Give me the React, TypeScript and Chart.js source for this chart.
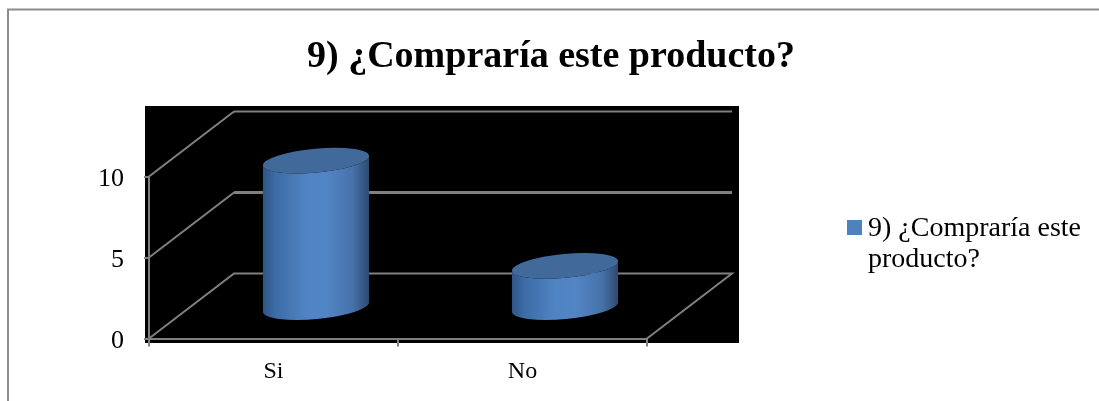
import React, { useEffect, useRef } from "react";
import { Chart, registerables } from "chart.js";

Chart.register(...registerables);

const categories = ["Si", "No"];
const seriesName = "9) ¿Compraría este producto?";
const legendLines = ["9) ¿Compraría este", "producto?"];
const seriesValues = [9.1, 2.6];
const yTicks = [0, 5, 10];

const SERIF = '"Liberation Serif", serif';
const GRAY = "#808080";
const BLUE = "#4f81bd";
const DEPTH_X = 85;
const DEPTH_Y = 65;

const scene = {
  id: "scene",
  afterLayout(chart: any) {
    // the title is centred on the whole frame, not on the plot
    chart.titleBlock.left = 2;
    chart.titleBlock.right = 1100;
  },
  beforeDraw(chart: any) {
    const { ctx, chartArea: a, scales } = chart;
    ctx.save();
    // frame: left and top edges only
    ctx.strokeStyle = "#8c8c8c";
    ctx.lineWidth = 2;
    ctx.beginPath();
    ctx.moveTo(8, 401);
    ctx.lineTo(8, 9.5);
    ctx.lineTo(1099, 9.5);
    ctx.stroke();
    // black plot backdrop
    ctx.fillStyle = "#000";
    ctx.fillRect(a.left - 4, a.top - 70.5, a.right - a.left + 94 + 2, a.bottom - a.top + 75);
    // walls and floor
    ctx.strokeStyle = GRAY;
    yTicks.forEach((t) => {
      const y = scales.y.getPixelForValue(t);
      ctx.lineWidth = 2;
      ctx.beginPath();
      ctx.moveTo(a.left, y);
      ctx.lineTo(a.left + DEPTH_X, y - DEPTH_Y);
      if (t === 0) {
        ctx.lineTo(a.right + DEPTH_X, y - DEPTH_Y);
        ctx.lineTo(a.right, y);
      }
      ctx.stroke();
      if (t !== 0) {
        ctx.lineWidth = t === 5 ? 3 : 2;
        ctx.beginPath();
        ctx.moveTo(a.left + DEPTH_X, y - DEPTH_Y);
        ctx.lineTo(a.right + DEPTH_X, y - DEPTH_Y);
        ctx.stroke();
      }
    });
    ctx.restore();
  },
  afterDatasetsDraw(chart: any) {
    const { ctx } = chart;
    const rot = -0.093;
    chart.getDatasetMeta(0).data.forEach((bar: any) => {
      const half = bar.width / 2;
      const cx = bar.x + DEPTH_X / 2;
      const baseY = bar.base - DEPTH_Y / 2 + 2;
      const topY = bar.y - DEPTH_Y / 2 + 2;
      const a = half / Math.cos(rot);
      const b = 12;
      const dy = half * Math.tan(rot);
      const grad = ctx.createLinearGradient(cx - half, 0, cx + half, 0);
      grad.addColorStop(0, "#2f5587");
      grad.addColorStop(0.12, "#3d6ca6");
      grad.addColorStop(0.4, "#5083c2");
      grad.addColorStop(0.6, "#5285c5");
      grad.addColorStop(0.85, "#4672a9");
      grad.addColorStop(1, "#2d4a70");
      ctx.save();
      ctx.fillStyle = grad;
      ctx.beginPath();
      ctx.moveTo(cx - half, topY - dy);
      ctx.lineTo(cx - half, baseY - dy);
      ctx.ellipse(cx, baseY, a, b, rot, Math.PI, 0, true);
      ctx.lineTo(cx + half, topY + dy);
      ctx.ellipse(cx, topY, a, b, rot, 0, Math.PI, false);
      ctx.closePath();
      ctx.fill();
      ctx.fillStyle = "#41699a";
      ctx.beginPath();
      ctx.ellipse(cx, topY, a, b, rot, 0, Math.PI * 2);
      ctx.fill();
      ctx.restore();
    });
  },
  afterDraw(chart: any) {
    const { ctx } = chart;
    ctx.save();
    ctx.fillStyle = BLUE;
    ctx.fillRect(847, 220, 15, 15);
    ctx.fillStyle = "#000";
    ctx.font = `28px ${SERIF}`;
    ctx.textBaseline = "alphabetic";
    legendLines.forEach((l, i) => ctx.fillText(l, 868, 236 + i * 31));
    ctx.restore();
  },
};

export default function App() {
  const ref = useRef<HTMLCanvasElement>(null);
  useEffect(() => {
    const chart = new Chart(ref.current!, {
      type: "bar",
      data: {
        labels: categories,
        datasets: [
          {
            label: seriesName,
            data: seriesValues,
            backgroundColor: "transparent",
            barPercentage: 0.426,
            categoryPercentage: 1,
          },
        ],
      },
      plugins: [scene],
      options: {
        responsive: false,
        animation: false,
        layout: { padding: { left: 0, right: 452, top: 0, bottom: 0 } },
        plugins: {
          legend: { display: false },
          tooltip: { enabled: false },
          title: {
            display: true,
            text: seriesName,
            color: "#000",
            font: { family: SERIF, size: 38, weight: "bold", lineHeight: 1 },
            padding: { top: 38, bottom: 100.5 },
          },
        },
        scales: {
          x: {
            afterFit: (s: any) => { s.height = 62.5; },
            border: { color: GRAY, width: 2 },
            grid: { drawOnChartArea: false, color: GRAY, tickLength: 8, lineWidth: 2 },
            ticks: { color: "#000", font: { family: SERIF, size: 24 }, padding: 11 },
          },
          y: {
            min: 0,
            max: 10,
            afterFit: (s: any) => { s.width = 149; },
            border: { color: GRAY, width: 2 },
            grid: { drawOnChartArea: false, color: GRAY, tickLength: 5, lineWidth: 2 },
            ticks: { color: "#000", font: { family: SERIF, size: 26 }, stepSize: 5, padding: 20, labelOffset: 2.5 },
          },
        },
      },
    } as any);
    return () => chart.destroy();
  }, []);
  return (
    <div style={{ position: "absolute", left: 0, top: 0, width: 1099, height: 401 }}>
      <canvas ref={ref} width={1099} height={401} style={{ display: "block" }} />
    </div>
  );
}
